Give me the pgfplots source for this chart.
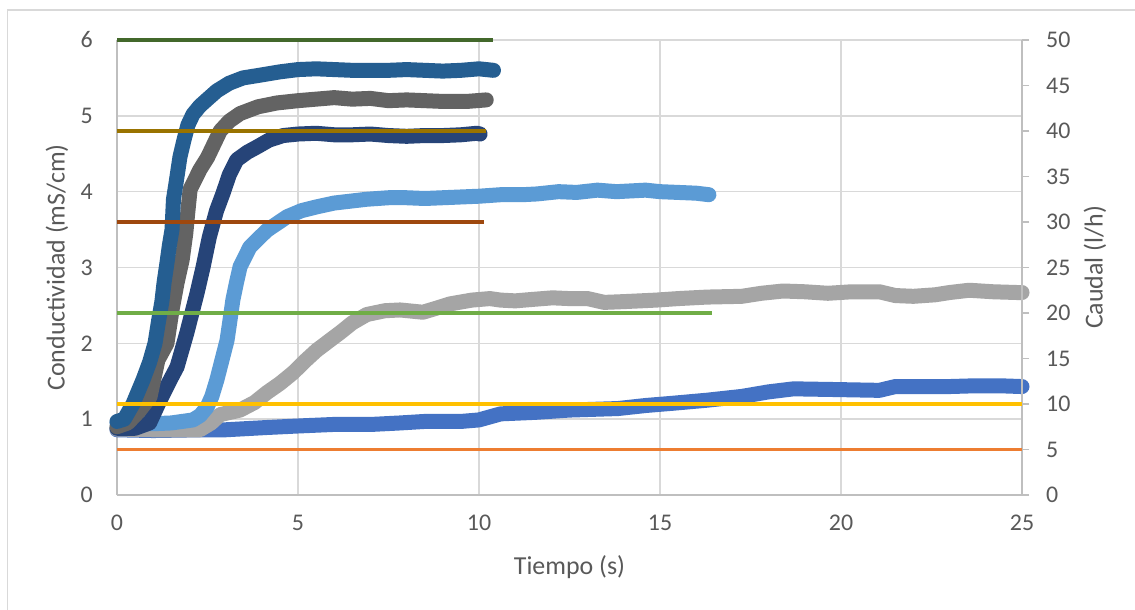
\documentclass[border=0pt]{standalone}
\usepackage{pgfplots}
\pgfplotsset{compat=1.18}
\usepackage{fontspec}
\setmainfont{Carlito}
\definecolor{cBlue}{HTML}{4472C4}
\definecolor{cOrange}{HTML}{ED7D31}
\definecolor{cGray}{HTML}{A5A5A5}
\definecolor{cGold}{HTML}{FFC000}
\definecolor{cLBlue}{HTML}{5B9BD5}
\definecolor{cGreen}{HTML}{70AD47}
\definecolor{cNavy}{HTML}{264478}
\definecolor{cBrown}{HTML}{9E480E}
\definecolor{cDGray}{HTML}{636363}
\definecolor{cOlive}{HTML}{997300}
\definecolor{cMBlue}{HTML}{255E91}
\definecolor{cDGreen}{HTML}{43682B}
\definecolor{gridc}{HTML}{D9D9D9}
\definecolor{axisc}{HTML}{BFBFBF}
\definecolor{labc}{HTML}{595959}
\begin{document}
\begin{tikzpicture}
\path[use as bounding box, fill=white] (-117bp,-115bp) rectangle (1018bp,495bp);
\draw[gridc, line width=1.5bp] (-109.5bp,-115bp) -- (-109.5bp,485bp) -- (1018bp,485bp);
\pgfplotsset{cond/.style={mark=none, line width=15bp, line cap=round, line join=round}}
\begin{axis}[
 at={(0,0)}, anchor=south west, scale only axis, width=905bp, height=455bp,
 xmin=0, xmax=25, ymin=0, ymax=6,
 xtick={0,5,...,25}, ytick={0,1,...,6},
 grid=major, major grid style={draw=gridc, line width=1.5bp},
 axis x line=bottom, axis y line=left,
 axis line style={-, draw=axisc, line width=1.8bp},
 major tick length=0pt,
 /pgf/number format/assume math mode=true,
 tick label style={font=\fontsize{24}{24}\selectfont, text=labc},
 xticklabel style={anchor=north, inner sep=0pt, yshift=-20bp},
 yticklabel style={anchor=east, inner sep=0pt, xshift=-24bp},
 xlabel={Tiempo (s)}, ylabel={Conductividad (mS/cm)},
 every axis x label/.style={at={(axis description cs:0.5,-0.158)}, anchor=center, font=\fontsize{26}{26}\selectfont, text=labc},
 every axis y label/.style={at={(axis description cs:-0.0663,0.5)}, rotate=90, anchor=center, font=\fontsize{26}{26}\selectfont, text=labc},
 clip=false,
]
% 5 l/h
\addplot[cond, cBlue] coordinates {
(0,0.86) (1,0.85) (2.29,0.86) (3,0.86) (4.14,0.89) (5,0.91) (5.97,0.93) (7,0.93) (7.82,0.95) (8.5,0.97) (9.5,0.97) (10.0,0.99) (10.3,1.03) (10.6,1.07) (11.56,1.09) (12.5,1.12) (13.84,1.14) (14.6,1.18) (15.36,1.21) (16.3,1.25) (17.26,1.30) (18.0,1.36) (18.69,1.40) (19.92,1.39) (21.06,1.38) (21.5,1.43) (22.2,1.43) (22.98,1.43) (23.7,1.44) (24.4,1.44) (25.0,1.43)};
% 10 l/h
\addplot[cond, cGray] coordinates {
(0,0.87) (1,0.86) (2,0.86) (2.29,0.86) (2.6,0.95) (2.85,1.06) (3.4,1.12) (3.8,1.22) (4.14,1.35) (4.5,1.47) (4.86,1.61) (5.2,1.77) (5.52,1.91) (6.16,2.14) (6.5,2.27) (6.9,2.38) (7.4,2.43) (7.82,2.44) (8.45,2.41) (8.8,2.46) (9.2,2.52) (9.8,2.57) (10.3,2.59) (10.6,2.57) (11,2.56) (11.5,2.58) (12.03,2.6) (12.5,2.59) (13,2.59) (13.46,2.54) (14,2.55) (14.89,2.57) (15.5,2.59) (16.3,2.61) (17.26,2.62) (17.8,2.66) (18.4,2.69) (19,2.68) (19.64,2.66) (20.3,2.68) (21.06,2.68) (21.5,2.63) (22.0,2.62) (22.6,2.64) (23.0,2.67) (23.54,2.7) (24.2,2.68) (24.87,2.67) (25,2.67)};
% 20 l/h
\addplot[cond, cLBlue] coordinates {
(0,0.95) (0.5,0.94) (1,0.94) (1.5,0.95) (2.1,0.99) (2.3,1.05) (2.49,1.16) (2.62,1.3) (2.76,1.52) (2.9,1.78) (3.04,2.04) (3.12,2.3) (3.2,2.57) (3.3,2.8) (3.4,3.01) (3.67,3.27) (4.14,3.49) (4.7,3.67) (5.1,3.75) (5.52,3.8) (6,3.85) (6.9,3.9) (7.5,3.92) (8,3.92) (8.5,3.91) (9,3.92) (9.5,3.93) (10,3.94) (10.6,3.96) (11.2,3.96) (11.6,3.97) (12.2,4.0) (12.7,3.99) (13.27,4.02) (13.8,4.0) (14.2,4.01) (14.6,4.02) (15.0,4.0) (15.5,3.99) (16.0,3.98) (16.35,3.96)};
% 30 l/h
\addplot[cond, cNavy] coordinates {
(0,0.88) (0.5,0.88) (0.9,0.95) (1.19,1.25) (1.45,1.5) (1.66,1.69) (1.93,2.14) (2.21,2.66) (2.38,3.01) (2.55,3.4) (2.75,3.75) (2.93,3.98) (3.1,4.22) (3.31,4.42) (3.6,4.52) (3.87,4.59) (4.2,4.68) (4.59,4.74) (5.0,4.76) (5.5,4.77) (6,4.75) (6.5,4.75) (7,4.76) (7.5,4.74) (8,4.73) (8.5,4.74) (9,4.74) (9.5,4.75) (9.94,4.77) (10.03,4.76)};
% 40 l/h
\addplot[cond, cDGray] coordinates {
(0,0.9) (0.3,0.95) (0.6,1.1) (0.91,1.29) (1.13,1.78) (1.38,2.0) (1.52,2.44) (1.66,2.8) (1.8,3.1) (1.9,3.45) (1.96,3.75) (2.02,4.03) (2.29,4.29) (2.5,4.45) (2.7,4.65) (2.85,4.8) (3.1,4.93) (3.4,5.03) (3.9,5.12) (4.42,5.17) (5,5.2) (5.5,5.22) (6,5.24) (6.5,5.22) (7,5.23) (7.5,5.2) (8,5.21) (8.5,5.2) (9,5.19) (9.67,5.19) (10.2,5.21)};
% 50 l/h
\addplot[cond, cMBlue] coordinates {
(0,0.97) (0.2,1.0) (0.44,1.2) (0.72,1.52) (0.9,1.75) (1.05,2.0) (1.15,2.3) (1.24,2.55) (1.3,2.8) (1.38,3.06) (1.45,3.3) (1.52,3.5) (1.56,3.9) (1.62,4.08) (1.74,4.46) (1.86,4.7) (1.96,4.88) (2.1,5.02) (2.29,5.13) (2.5,5.22) (2.76,5.33) (3.1,5.43) (3.48,5.5) (4.0,5.54) (4.5,5.58) (5.0,5.61) (5.5,5.62) (6,5.61) (6.5,5.6) (7,5.6) (7.5,5.6) (8,5.61) (8.5,5.6) (9,5.59) (9.5,5.6) (10,5.62) (10.4,5.6)};
\end{axis}
\begin{axis}[
 at={(0,0)}, anchor=south west, scale only axis, width=905bp, height=455bp,
 xmin=0, xmax=25, ymin=0, ymax=50,
 axis x line=none, axis y line=right,
 axis line style={-, draw=axisc, line width=1.8bp},
 ytick={0,5,...,50},
 tick align=outside, major tick length=7bp,
 tick style={draw=axisc, line width=1.5bp},
 /pgf/number format/assume math mode=true,
 tick label style={font=\fontsize{24}{24}\selectfont, text=labc},
 yticklabel style={anchor=west, inner sep=0pt, xshift=17bp},
 ylabel={Caudal (l/h)},
 every axis y label/.style={at={(axis description cs:1.0807,0.5)}, rotate=90, anchor=center, font=\fontsize{26}{26}\selectfont, text=labc},
 clip=false,
]
\addplot[mark=none, cOrange, line width=3.5bp] coordinates {(0,5) (25,5)};
\addplot[mark=none, cGold, line width=3.5bp] coordinates {(0,10) (25,10)};
\addplot[mark=none, cGreen, line width=3.5bp] coordinates {(0,20) (16.45,20)};
\addplot[mark=none, cBrown, line width=3.5bp] coordinates {(0,30) (10.15,30)};
\addplot[mark=none, cOlive, line width=3.5bp] coordinates {(0,40) (10.2,40)};
\addplot[mark=none, cDGreen, line width=3.5bp] coordinates {(0,50) (10.4,50)};
\end{axis}
\end{tikzpicture}
\end{document}
